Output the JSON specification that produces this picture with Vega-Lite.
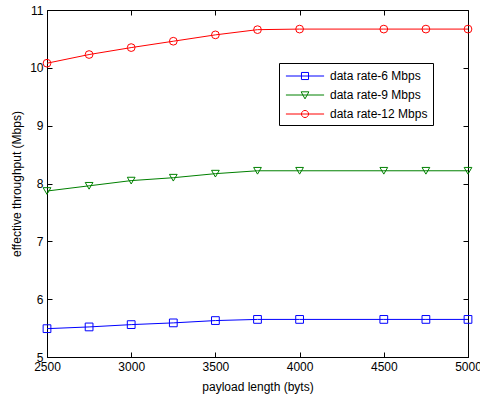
{
  "$schema": "https://vega.github.io/schema/vega-lite/v6.json",
  "width": 421,
  "height": 347,
  "autosize": {"type": "none"},
  "padding": {"left": 47, "top": 10, "right": 12, "bottom": 40},
  "background": "white",
  "config": {
    "view": {"stroke": "black", "strokeWidth": 1},
    "font": "Liberation Sans",
    "axis": {"grid": false, "labelFlush": false, "domainColor": "black", "tickColor": "black", "labelColor": "black", "titleColor": "black", "labelFontSize": 12, "titleFontSize": 12, "titleFontWeight": "normal", "labelFont": "Liberation Sans", "titleFont": "Liberation Sans"}
  },
  "data": {"values": [
    {"x": 2500, "v": 5.49, "s": "data rate-6 Mbps"},
    {"x": 2750, "v": 5.52, "s": "data rate-6 Mbps"},
    {"x": 3000, "v": 5.56, "s": "data rate-6 Mbps"},
    {"x": 3250, "v": 5.59, "s": "data rate-6 Mbps"},
    {"x": 3500, "v": 5.63, "s": "data rate-6 Mbps"},
    {"x": 3750, "v": 5.65, "s": "data rate-6 Mbps"},
    {"x": 4000, "v": 5.65, "s": "data rate-6 Mbps"},
    {"x": 4500, "v": 5.65, "s": "data rate-6 Mbps"},
    {"x": 4750, "v": 5.65, "s": "data rate-6 Mbps"},
    {"x": 5000, "v": 5.65, "s": "data rate-6 Mbps"},
    {"x": 2500, "v": 7.87, "s": "data rate-9 Mbps"},
    {"x": 2750, "v": 7.96, "s": "data rate-9 Mbps"},
    {"x": 3000, "v": 8.05, "s": "data rate-9 Mbps"},
    {"x": 3250, "v": 8.10, "s": "data rate-9 Mbps"},
    {"x": 3500, "v": 8.17, "s": "data rate-9 Mbps"},
    {"x": 3750, "v": 8.22, "s": "data rate-9 Mbps"},
    {"x": 4000, "v": 8.22, "s": "data rate-9 Mbps"},
    {"x": 4500, "v": 8.22, "s": "data rate-9 Mbps"},
    {"x": 4750, "v": 8.22, "s": "data rate-9 Mbps"},
    {"x": 5000, "v": 8.22, "s": "data rate-9 Mbps"},
    {"x": 2500, "v": 10.08, "s": "data rate-12 Mbps"},
    {"x": 2750, "v": 10.23, "s": "data rate-12 Mbps"},
    {"x": 3000, "v": 10.35, "s": "data rate-12 Mbps"},
    {"x": 3250, "v": 10.46, "s": "data rate-12 Mbps"},
    {"x": 3500, "v": 10.57, "s": "data rate-12 Mbps"},
    {"x": 3750, "v": 10.66, "s": "data rate-12 Mbps"},
    {"x": 4000, "v": 10.67, "s": "data rate-12 Mbps"},
    {"x": 4500, "v": 10.67, "s": "data rate-12 Mbps"},
    {"x": 4750, "v": 10.67, "s": "data rate-12 Mbps"},
    {"x": 5000, "v": 10.67, "s": "data rate-12 Mbps"}
  ]},
  "resolve": {"axis": {"x": "independent", "y": "independent"}, "scale": {"shape": "independent"}},
  "layer": [
    {
      "mark": {"type": "line", "strokeWidth": 1},
      "encoding": {
        "x": {"field": "x", "type": "quantitative", "scale": {"domain": [2500, 5000], "nice": false},
              "axis": {"orient": "bottom", "title": "payload length (byts)", "values": [2500, 3000, 3500, 4000, 4500, 5000], "tickSize": -5, "labelPadding": 9, "titlePadding": 9, "format": "d"}},
        "y": {"field": "v", "type": "quantitative", "scale": {"domain": [5, 11], "nice": false, "zero": false},
              "axis": {"orient": "left", "title": "effective throughput (Mbps)", "values": [5, 6, 7, 8, 9, 10, 11], "tickSize": -5, "labelPadding": 9, "titlePadding": 6}},
        "color": {"field": "s", "type": "nominal", "scale": {"domain": ["data rate-6 Mbps", "data rate-9 Mbps", "data rate-12 Mbps"], "range": ["#0000FF", "#008000", "#FF0000"]}, "legend": null},
        "detail": {"field": "s"}
      }
    },
    {
      "mark": {"type": "point", "filled": false, "size": 60, "strokeWidth": 1, "opacity": 1},
      "encoding": {
        "x": {"field": "x", "type": "quantitative", "axis": {"orient": "top", "labels": false, "title": null, "values": [2500, 3000, 3500, 4000, 4500, 5000], "tickSize": -5, "domain": false}},
        "y": {"field": "v", "type": "quantitative", "axis": {"orient": "right", "labels": false, "title": null, "values": [5, 6, 7, 8, 9, 10, 11], "tickSize": -5, "domain": false}},
        "color": {"field": "s", "type": "nominal", "legend": null},
        "shape": {"field": "s", "type": "nominal", "scale": {"domain": ["data rate-6 Mbps", "data rate-9 Mbps", "data rate-12 Mbps"], "range": ["square", "triangle-down", "circle"]}, "legend": null}
      }
    },
    {
      "mark": {"type": "point", "filled": false, "size": 1, "opacity": 0},
      "encoding": {
        "x": {"field": "x", "type": "quantitative", "axis": null},
        "y": {"field": "v", "type": "quantitative", "axis": null},
        "color": {"field": "s", "type": "nominal", "legend": null},
        "shape": {"field": "s", "type": "nominal",
          "scale": {"domain": ["data rate-6 Mbps", "data rate-9 Mbps", "data rate-12 Mbps"],
                    "range": ["M-2.7,0H2.7M-0.5,-0.5H0.5V0.5H-0.5Z", "M-2.7,0H2.7M-0.55,-0.45L0.55,-0.45L0,0.55Z", "M-2.7,0H2.7M0.5,0A0.5,0.5,0,1,1,-0.5,0A0.5,0.5,0,1,1,0.5,0Z"]},
          "legend": {"title": null, "orient": "none", "legendX": 232, "legendY": 53, "fillColor": "white", "strokeColor": "black", "padding": 5,
                     "symbolSize": 200, "symbolOpacity": 1, "symbolStrokeWidth": 1, "symbolFillColor": "transparent",
                     "symbolStrokeColor": {"expr": "scale('color', datum.value)"}, "symbolOffset": 13,
                     "labelOffset": 17, "labelFontSize": 12, "labelFont": "Liberation Sans", "labelColor": "black", "rowPadding": 5, "labelLimit": 200}
        }
      }
    }
  ]
}
